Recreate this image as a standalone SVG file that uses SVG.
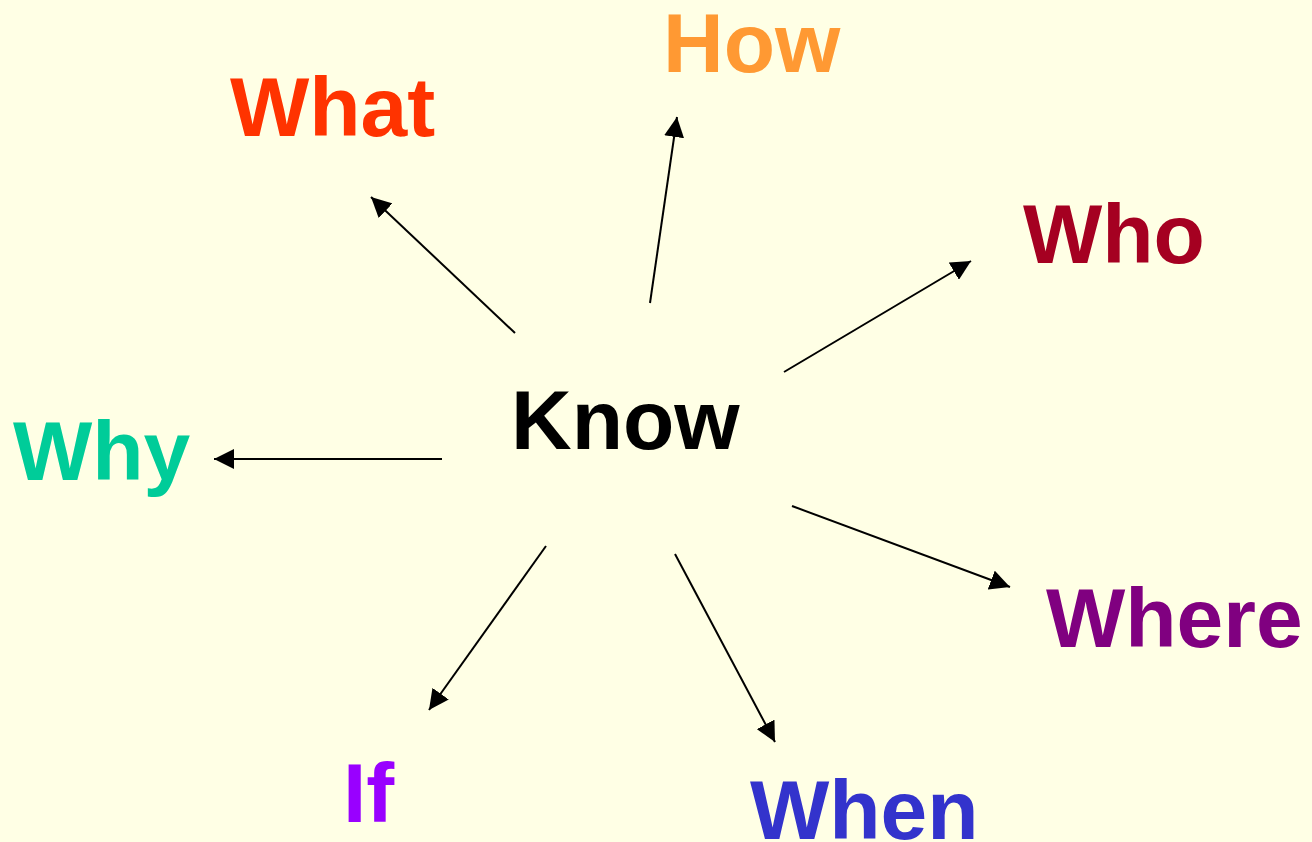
<svg xmlns="http://www.w3.org/2000/svg" width="1312" height="842" viewBox="0 0 1312 842">
<style>
text{font-family:"Liberation Sans",Arial,sans-serif;font-weight:bold;font-size:84px}
.c{stroke:#000;stroke-width:2;fill:none;marker-end:url(#ah)}
</style>
<defs>
<marker id="ah" viewBox="0 0 10 10" refX="10" refY="5" markerWidth="10" markerHeight="10" orient="auto" markerUnits="strokeWidth">
<path d="M0,0 L10,5 L0,10 z" fill="#000"/>
</marker>
</defs>
<rect width="1312" height="842" fill="#FFFFE5"/>
<g id="connectors">
<line class="c" x1="515" y1="333" x2="371" y2="197"/>
<line class="c" x1="650" y1="303" x2="677" y2="117"/>
<line class="c" x1="784" y1="372" x2="971" y2="261"/>
<line class="c" x1="442" y1="459" x2="214" y2="459"/>
<line class="c" x1="792" y1="506" x2="1010" y2="587"/>
<line class="c" x1="675" y1="554" x2="775" y2="742"/>
<line class="c" x1="546" y1="546" x2="429" y2="710"/>
</g>
<g id="know"><text x="511" y="449" fill="#000">Know</text></g>
<g id="what"><text x="230" y="136" fill="#FF3300">What</text></g>
<g id="how"><text x="663" y="72" fill="#FF9933">How</text></g>
<g id="who"><text x="1023" y="263" fill="#A50021">Who</text></g>
<g id="why"><text x="13" y="480" fill="#00CC99">Why</text></g>
<g id="where"><text x="1046" y="647" fill="#800080">Where</text></g>
<g id="if"><text x="343" y="822" fill="#9900FF">If</text></g>
<g id="when"><text x="750" y="839" fill="#3333CC">When</text></g>
</svg>
